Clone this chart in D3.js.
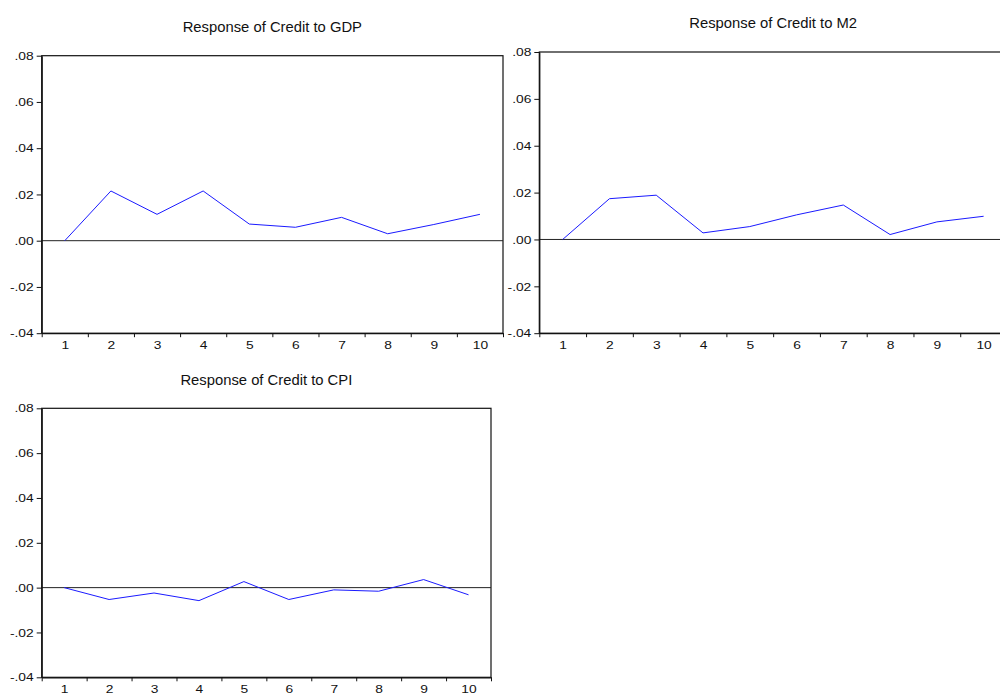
<!DOCTYPE html>
<html>
<head>
<meta charset="utf-8">
<script src="https://cdn.jsdelivr.net/npm/d3@7"></script>
<style>
  html, body { margin: 0; padding: 0; background: #fff; }
  svg { display: block; }
  .tick text { font-family: "Liberation Sans", Arial, sans-serif; fill: #111; }
  .title { font-family: "Liberation Sans", Arial, sans-serif; fill: #111; }
</style>
</head>
<body>
<svg id="chart" width="1000" height="696"></svg>
<script>
// Impulse response periods
const periods = [1, 2, 3, 4, 5, 6, 7, 8, 9, 10];

// Responses of Credit to a shock in each variable
const responseGDP = [0.0000, 0.0215, 0.0114, 0.0215, 0.0072, 0.0058, 0.0101, 0.0030, 0.0070, 0.0114];
const responseM2  = [0.0000, 0.0174, 0.0189, 0.0028, 0.0055, 0.0105, 0.0147, 0.0021, 0.0075, 0.0099];
const responseCPI = [0.0000, -0.0053, -0.0024, -0.0058, 0.0027, -0.0053, -0.0010, -0.0016, 0.0036, -0.0032];

// Vertical axis ticks and their labels
const yTickValues = [-0.04, -0.02, 0.00, 0.02, 0.04, 0.06, 0.08];
const yTickLabels = ["-.04", "-.02", ".00", ".02", ".04", ".06", ".08"];

const panelTitles = ["Response of Credit to GDP", "Response of Credit to M2", "Response of Credit to CPI"];

const panels = [
  { title: panelTitles[0], values: responseGDP, x0: 41.7, x1: 503, y0: 55.7, y1: 333.2, titleY: 32 },
  { title: panelTitles[1], values: responseM2,  x0: 539.3, x1: 1007, y0: 52, y1: 333.2, titleY: 28 },
  { title: panelTitles[2], values: responseCPI, x0: 41.7, x1: 491, y0: 408.3, y1: 677.3, titleY: 385 }
];

const labelStretch = 1.2;   // tick labels are drawn slightly wide

const svg = d3.select("#chart");

panels.forEach(p => {
  const g = svg.append("g");

  const x = d3.scaleLinear().domain([0.5, periods.length + 0.5]).range([p.x0, p.x1]);
  const y = d3.scaleLinear().domain([-0.04, 0.08]).range([p.y1, p.y0]);

  // frame
  g.append("rect")
    .attr("x", p.x0).attr("y", p.y0)
    .attr("width", p.x1 - p.x0).attr("height", p.y1 - p.y0)
    .attr("fill", "none").attr("stroke", "#111").attr("stroke-width", 1.2);

  // zero reference line
  g.append("line")
    .attr("x1", p.x0).attr("x2", p.x1)
    .attr("y1", y(0)).attr("y2", y(0))
    .attr("stroke", "#222").attr("stroke-width", 1);

  // y axis
  const yAxis = d3.axisLeft(y)
    .tickValues(yTickValues)
    .tickFormat((d, i) => yTickLabels[i])
    .tickSize(5).tickSizeOuter(0).tickPadding(3);
  const ya = g.append("g").attr("transform", `translate(${p.x0},0)`).call(yAxis);
  ya.select(".domain").attr("stroke", "#111").attr("stroke-width", 1.2);
  ya.selectAll(".tick line").attr("stroke", "#111");
  ya.selectAll(".tick text")
    .attr("font-size", 11.5)
    .attr("x", -8 / labelStretch)
    .attr("transform", `scale(${labelStretch},1)`);

  // x axis: ticks between periods
  const bounds = d3.range(0.5, periods.length + 1, 1);
  const xTicks = d3.axisBottom(x).tickValues(bounds).tickFormat("").tickSize(4).tickSizeOuter(0);
  const xa = g.append("g").attr("transform", `translate(0,${p.y1})`).call(xTicks);
  xa.select(".domain").attr("stroke", "#111").attr("stroke-width", 1.2);
  xa.selectAll(".tick line").attr("stroke", "#111");

  // x axis: period labels centred in each slot
  const xLabels = d3.axisBottom(x).tickValues(periods).tickFormat(d3.format("d")).tickSize(0).tickPadding(8);
  const xl = g.append("g").attr("transform", `translate(0,${p.y1})`).call(xLabels);
  xl.select(".domain").remove();
  xl.selectAll(".tick text")
    .attr("font-size", 11.5)
    .attr("transform", `scale(${labelStretch},1)`);

  // response line
  const line = d3.line().x((d, i) => x(periods[i])).y(d => y(d));
  g.append("path")
    .datum(p.values)
    .attr("d", line)
    .attr("fill", "none")
    .attr("stroke", "#1a1aff")
    .attr("stroke-width", 1);

  // title
  g.append("text")
    .attr("class", "title")
    .attr("x", (p.x0 + p.x1) / 2)
    .attr("y", p.titleY)
    .attr("text-anchor", "middle")
    .attr("font-size", 14.8)
    .text(p.title);
});
</script>
</body>
</html>
